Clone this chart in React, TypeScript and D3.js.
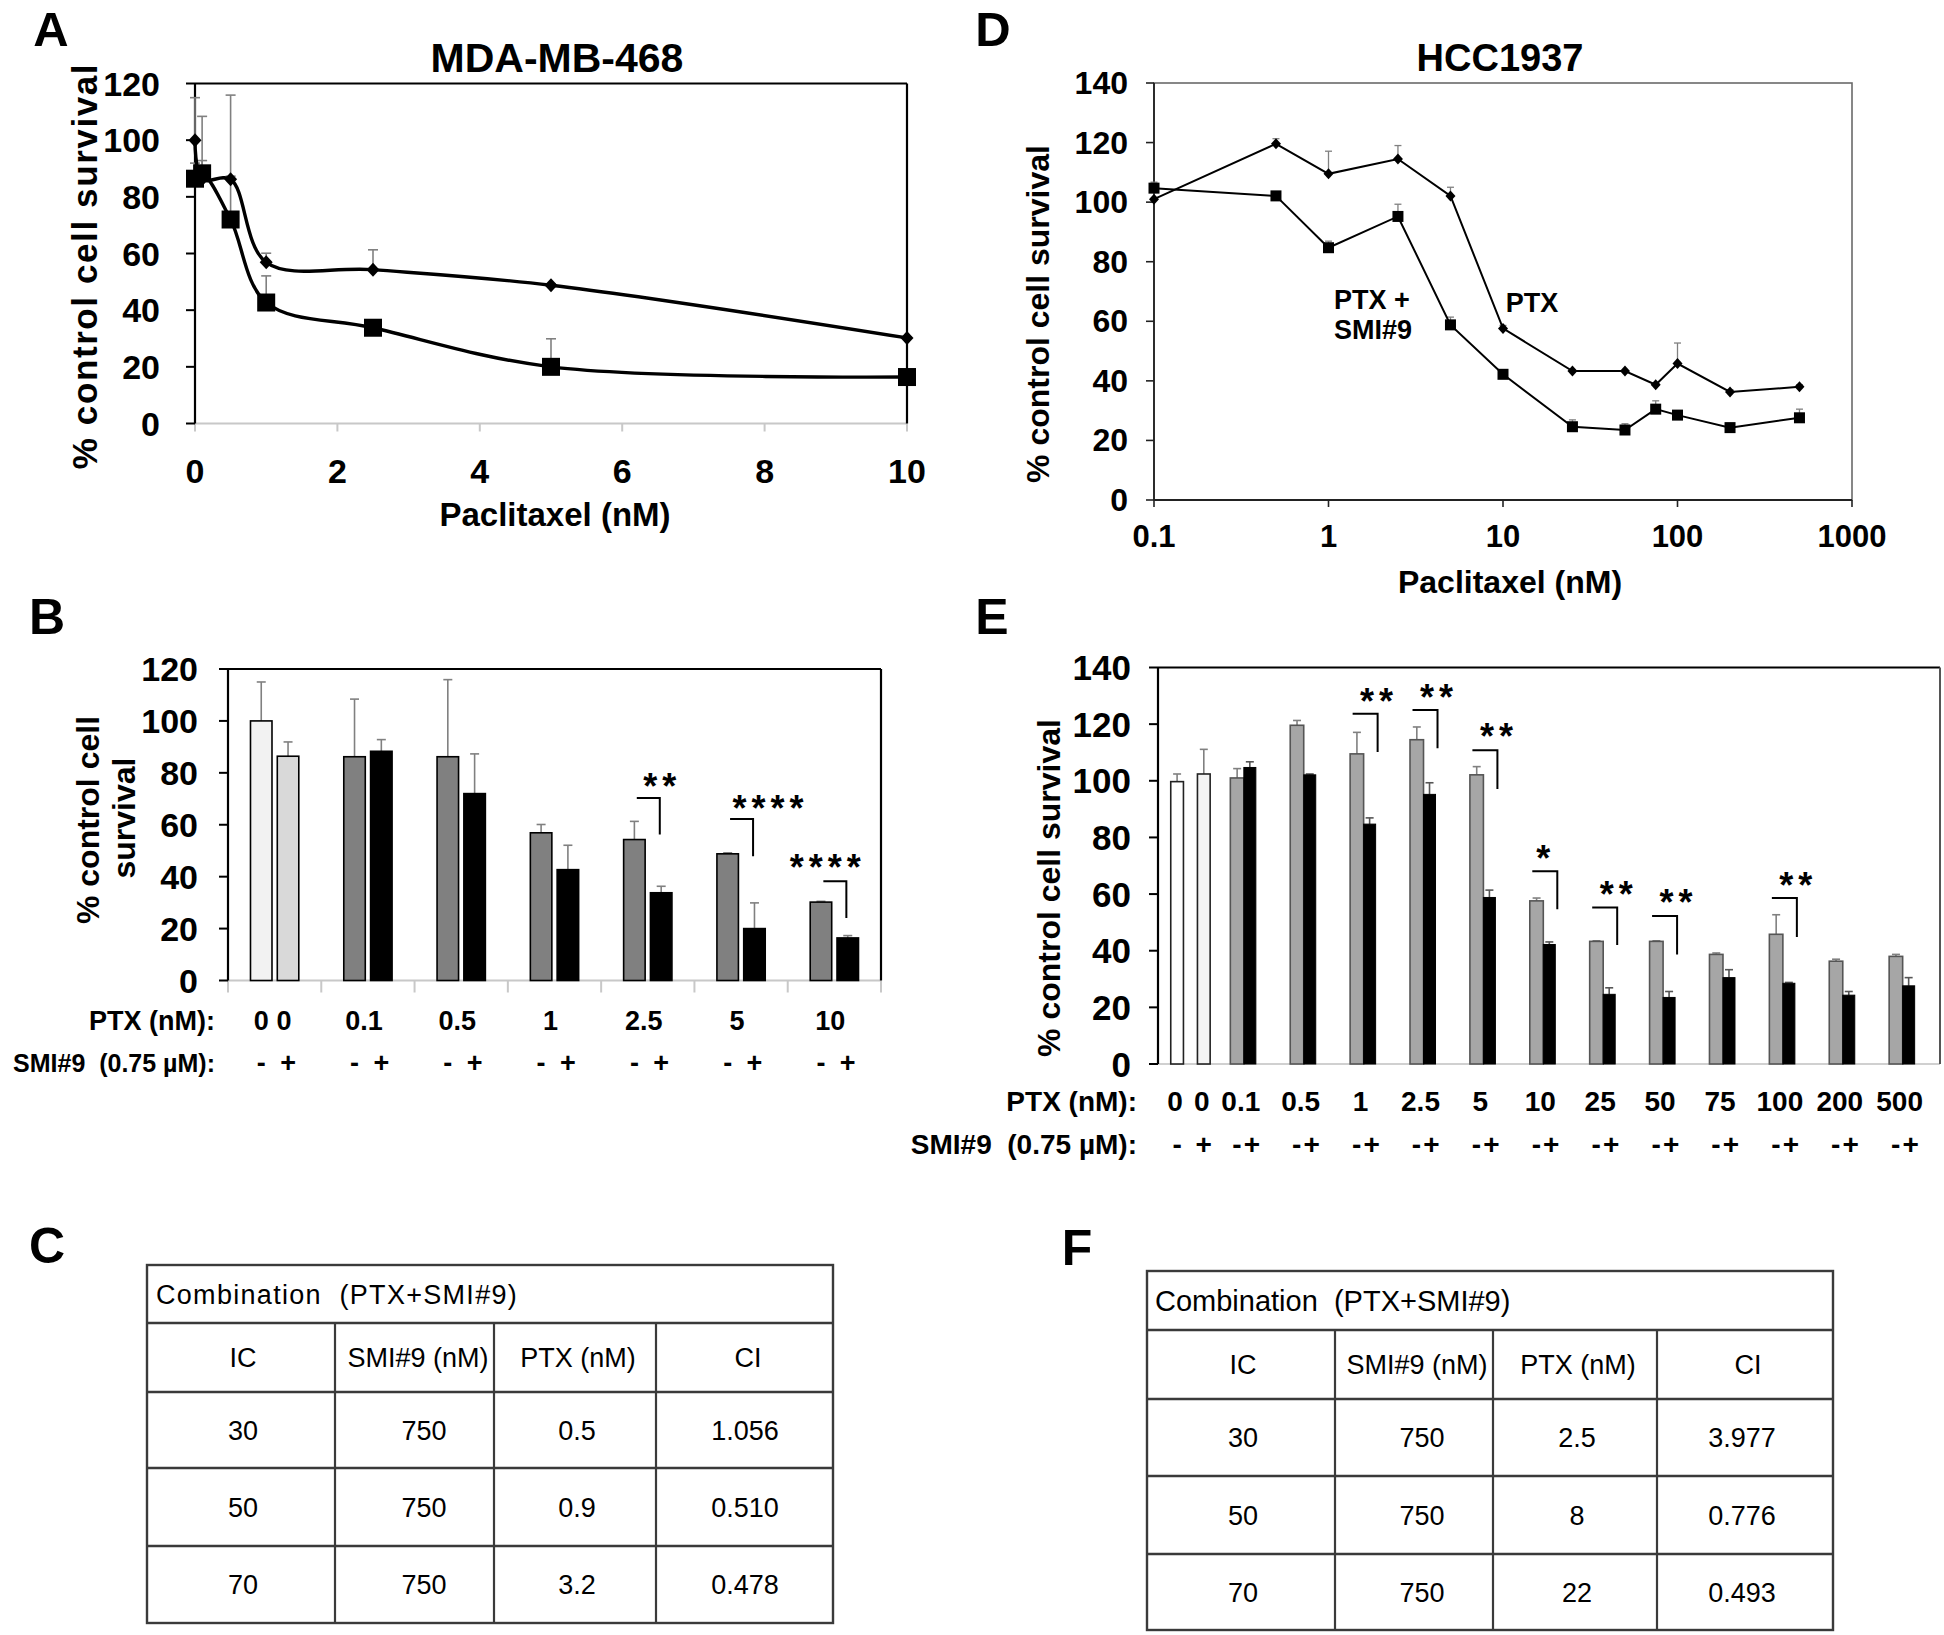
import React from 'react';
import * as d3 from 'd3';

const FONT = "'Liberation Sans', Arial, Helvetica, sans-serif";

// ---------- MDA-MB-468 (panels A, B) ----------
const MDA_DOSES = [0, 0.1, 0.5, 1, 2.5, 5, 10];
const MDA_PTX = [100, 86.2, 86.2, 56.9, 54.3, 48.8, 30.2];
const MDA_PTX_ERR = [15, 22.2, 29.7, 3.2, 7, 0.4, 0.3];
const MDA_COMBO = [86.4, 88.3, 72, 42.7, 33.8, 20, 16.4];
const MDA_COMBO_ERR = [5.5, 4.5, 15.3, 9.4, 2.5, 9.9, 0.9];
const A_YTICKS = [0, 20, 40, 60, 80, 100, 120];
const A_XTICKS = [0, 2, 4, 6, 8, 10];
const B_CATS = ['0', '0.1', '0.5', '1', '2.5', '5', '10'];
const B_SIG_CATS = ['2.5', '5', '10'];
const B_SIG_STARS = ['**', '****', '****'];
const B_SIG_TOP = [70.3, 62.2, 38.2];
const B_SIG_BOTTOM = [56.2, 47.9, 24.1];
const B_SIG_STAR_Y = [78, 69.7, 46.8];

// ---------- HCC1937 (panels D, E) ----------
const HCC_DOSES = [0.1, 0.5, 1, 2.5, 5, 10, 25, 50, 75, 100, 200, 500];
const HCC_PTX = [101, 119.6, 109.5, 114.5, 102.1, 57.6, 43.3, 43.3, 38.7, 45.8, 36.3, 38];
const HCC_PTX_ERR = [3.3, 1.7, 7.6, 4.5, 2.9, 1, 0.2, 0.2, 0.5, 6.9, 0.7, 0.7];
const HCC_COMBO = [104.7, 102.1, 84.7, 95.2, 58.8, 42.2, 24.6, 23.5, 30.5, 28.5, 24.3, 27.6];
const HCC_COMBO_ERR = [2, 0.3, 2.2, 4.1, 2.6, 0.9, 2.3, 2.1, 2.8, 0.3, 1.3, 2.9];
const HCC_CONTROL = [99.7, 102.4];
const HCC_CONTROL_ERR = [2.7, 8.7];
const D_YTICKS = [0, 20, 40, 60, 80, 100, 120, 140];
const D_XTICKS = [0.1, 1, 10, 100, 1000];
const E_CATS = ['0', '0.1', '0.5', '1', '2.5', '5', '10', '25', '50', '75', '100', '200', '500'];
const E_SIG_CATS = ['1', '2.5', '5', '10', '25', '50', '100'];
const E_SIG_STARS = ['**', '**', '**', '*', '**', '**', '**'];
const E_SIG_TOP = [123.7, 125, 110.8, 68.1, 55.3, 52.3, 58.6];
const E_SIG_BOTTOM = [110.2, 111.5, 97.1, 54.6, 42, 38.7, 44.8];
const E_SIG_STAR_Y = [131.1, 132.4, 118.7, 75.6, 62.7, 59.9, 66.1];

// ---------- Tables C, F ----------
const TABLE_TITLE = 'Combination  (PTX+SMI#9)';
const TABLE_HEAD = ['IC', 'SMI#9 (nM)', 'PTX (nM)', 'CI'];
const TABLE_IC = ['30', '50', '70'];
const C_SMI = ['750', '750', '750'];
const C_PTX = ['0.5', '0.9', '3.2'];
const C_CI = ['1.056', '0.510', '0.478'];
const F_SMI = ['750', '750', '750'];
const F_PTX = ['2.5', '8', '22'];
const F_CI = ['3.977', '0.776', '0.493'];

const PTX_ROW = 'PTX (nM):';
const SMI_ROW = 'SMI#9  (0.75 µM):';

function T(props: any) {
  const { x, y, size = 30, weight = 'bold', anchor = 'middle', children, ...rest } = props;
  return (
    <text x={x} y={y} fontSize={size} fontWeight={weight} textAnchor={anchor} fontFamily={FONT}
      fill="#000" style={{ whiteSpace: 'pre' }} {...rest}>{children}</text>
  );
}

function Diamond({ cx, cy, w, h }: any) {
  return <path d={`M${cx},${cy - h} L${cx + w},${cy} L${cx},${cy + h} L${cx - w},${cy} Z`} fill="#000" />;
}

function ErrUp({ x, y0, y1, cap, color = '#808080', sw = 1.6 }: any) {
  return (
    <g stroke={color} strokeWidth={sw}>
      <line x1={x} x2={x} y1={y0} y2={y1} />
      <line x1={x - cap / 2} x2={x + cap / 2} y1={y1} y2={y1} />
    </g>
  );
}

function PanelA() {
  const L = 195, R = 907, TOP = 83.5, BOT = 423.5;
  const x = d3.scaleLinear().domain([0, 10]).range([L, R]);
  const y = d3.scaleLinear().domain([0, 120]).range([BOT, TOP]);
  const curve = d3.line<number>().x((_, i) => x(MDA_DOSES[i])).y((d) => y(d)).curve(d3.curveCatmullRom.alpha(0.5));
  return (
    <g>
      <T x={557} y={72} size={41}>MDA-MB-468</T>
      <line x1={L} x2={R} y1={BOT} y2={BOT} stroke="#c8c8c8" strokeWidth={2} />
      {A_XTICKS.map((t) => (
        <line key={t} x1={x(t)} x2={x(t)} y1={BOT} y2={BOT + 8} stroke="#c8c8c8" strokeWidth={2} />
      ))}
      <line x1={L} x2={R} y1={TOP} y2={TOP} stroke="#000" strokeWidth={2.2} />
      <line x1={R} x2={R} y1={TOP} y2={BOT} stroke="#000" strokeWidth={2.2} />
      <line x1={L} x2={L} y1={TOP} y2={BOT} stroke="#000" strokeWidth={2.2} />
      {A_YTICKS.map((t) => (
        <g key={t}>
          <line x1={L - 9} x2={L} y1={y(t)} y2={y(t)} stroke="#000" strokeWidth={2} />
          <T x={160} y={y(t) + 12} size={34} anchor="end">{t}</T>
        </g>
      ))}
      {A_XTICKS.map((t) => (
        <T key={t} x={x(t)} y={483} size={34}>{t}</T>
      ))}
      <T x={555} y={526} size={33}>Paclitaxel (nM)</T>
      <T x={0} y={0} size={35} transform={`translate(97,266) rotate(-90)`} letterSpacing={1.6}>% control cell survival</T>
      {MDA_DOSES.map((d, i) => (
        <g key={'e' + i}>
          <ErrUp x={x(d)} y0={y(MDA_PTX[i])} y1={y(MDA_PTX[i] + MDA_PTX_ERR[i])} cap={10} />
          <ErrUp x={x(d)} y0={y(MDA_COMBO[i])} y1={y(MDA_COMBO[i] + MDA_COMBO_ERR[i])} cap={10} />
        </g>
      ))}
      <path d={curve(MDA_PTX) || ''} fill="none" stroke="#000" strokeWidth={3.4} />
      <path d={curve(MDA_COMBO) || ''} fill="none" stroke="#000" strokeWidth={3.4} />
      {MDA_DOSES.map((d, i) => (
        <Diamond key={'d' + i} cx={x(d)} cy={y(MDA_PTX[i])} w={6.5} h={7} />
      ))}
      {MDA_DOSES.map((d, i) => (
        <rect key={'s' + i} x={x(d) - 9} y={y(MDA_COMBO[i]) - 9} width={18} height={18} fill="#000" />
      ))}
    </g>
  );
}

function PanelD() {
  const L = 1154, R = 1852, TOP = 83, BOT = 500;
  const x = d3.scaleLog().domain([0.1, 1000]).range([L, R]);
  const y = d3.scaleLinear().domain([0, 140]).range([BOT, TOP]);
  const line = d3.line<number>().x((_, i) => x(HCC_DOSES[i])).y((d) => y(d));
  return (
    <g>
      <T x={1500} y={71} size={38}>HCC1937</T>
      <rect x={L} y={TOP} width={R - L} height={BOT - TOP} fill="none" stroke="#6a6a6a" strokeWidth={1.6} />
      <line x1={L} x2={L} y1={TOP} y2={BOT} stroke="#222" strokeWidth={1.8} />
      <line x1={L} x2={R} y1={BOT} y2={BOT} stroke="#222" strokeWidth={1.8} />
      {D_YTICKS.map((t) => (
        <g key={t}>
          <line x1={L - 8} x2={L} y1={y(t)} y2={y(t)} stroke="#222" strokeWidth={1.6} />
          <T x={1128} y={y(t) + 11} size={32} anchor="end">{t}</T>
        </g>
      ))}
      {D_XTICKS.map((t) => (
        <g key={t}>
          <line x1={x(t)} x2={x(t)} y1={BOT} y2={BOT + 7} stroke="#222" strokeWidth={1.6} />
          <T x={x(t)} y={547} size={31}>{String(t)}</T>
        </g>
      ))}
      <T x={1510} y={593} size={32}>Paclitaxel (nM)</T>
      <T x={0} y={0} size={32} transform={`translate(1049,314) rotate(-90)`}>% control cell survival</T>
      {HCC_DOSES.map((d, i) => (
        <g key={'e' + i}>
          <ErrUp x={x(d)} y0={y(HCC_PTX[i])} y1={y(HCC_PTX[i] + HCC_PTX_ERR[i])} cap={7} sw={1.3} />
          <ErrUp x={x(d)} y0={y(HCC_COMBO[i])} y1={y(HCC_COMBO[i] + HCC_COMBO_ERR[i])} cap={7} sw={1.3} />
        </g>
      ))}
      <path d={line(HCC_PTX) || ''} fill="none" stroke="#000" strokeWidth={2} />
      <path d={line(HCC_COMBO) || ''} fill="none" stroke="#000" strokeWidth={2} />
      {HCC_DOSES.map((d, i) => (
        <Diamond key={'d' + i} cx={x(d)} cy={y(HCC_PTX[i])} w={5} h={5.5} />
      ))}
      {HCC_DOSES.map((d, i) => (
        <rect key={'s' + i} x={x(d) - 5.5} y={y(HCC_COMBO[i]) - 5.5} width={11} height={11} fill="#000" />
      ))}
      <T x={1372} y={309} size={27}>PTX +</T>
      <T x={1373} y={339} size={27}>SMI#9</T>
      <T x={1532} y={312} size={27}>PTX</T>
    </g>
  );
}

function PanelB() {
  const L = 228, R = 881, TOP = 669, BOT = 980.5;
  const x = d3.scaleBand().domain(B_CATS).range([L, R]);
  const y = d3.scaleLinear().domain([0, 120]).range([BOT, TOP]);
  const c = (k: string) => (x(k) as number) + x.bandwidth() / 2;
  const bw = 21.5, off = 13.4;
  const boundaries = B_CATS.map((k) => x(k) as number).concat([R]);
  return (
    <g>
      <line x1={L} x2={R} y1={BOT} y2={BOT} stroke="#c8c8c8" strokeWidth={2} />
      {boundaries.map((b, i) => (
        <line key={i} x1={b} x2={b} y1={BOT} y2={BOT + 12} stroke="#c8c8c8" strokeWidth={2} />
      ))}
      <line x1={L} x2={R} y1={TOP} y2={TOP} stroke="#000" strokeWidth={2.2} />
      <line x1={R} x2={R} y1={TOP} y2={BOT} stroke="#000" strokeWidth={2.2} />
      <line x1={L} x2={L} y1={TOP} y2={BOT} stroke="#000" strokeWidth={2.2} />
      {A_YTICKS.map((t) => (
        <g key={t}>
          <line x1={L - 9} x2={L} y1={y(t)} y2={y(t)} stroke="#000" strokeWidth={2} />
          <T x={198} y={y(t) + 12} size={34} anchor="end">{t}</T>
        </g>
      ))}
      <T x={0} y={0} size={32} transform={`translate(99,820) rotate(-90)`}>% control cell</T>
      <T x={0} y={0} size={32} transform={`translate(135,818) rotate(-90)`}>survival</T>
      {B_CATS.map((k, i) => {
        const cx = c(k);
        const gFill = i === 0 ? '#f2f2f2' : '#808080';
        const bFill = i === 0 ? '#d9d9d9' : '#000';
        return (
          <g key={k}>
            <ErrUp x={cx - off} y0={y(MDA_PTX[i])} y1={y(MDA_PTX[i] + MDA_PTX_ERR[i])} cap={9} />
            <ErrUp x={cx + off} y0={y(MDA_COMBO[i])} y1={y(MDA_COMBO[i] + MDA_COMBO_ERR[i])} cap={9} />
            <rect x={cx - off - bw / 2} y={y(MDA_PTX[i])} width={bw} height={BOT - y(MDA_PTX[i])} fill={gFill} stroke="#000" strokeWidth={1.6} />
            <rect x={cx + off - bw / 2} y={y(MDA_COMBO[i])} width={bw} height={BOT - y(MDA_COMBO[i])} fill={bFill} stroke="#000" strokeWidth={1.6} />
            {i === 0 ? (
              <>
                <T x={cx - off} y={1030} size={27}>{k}</T>
                <T x={cx + off - 4} y={1030} size={27}>{k}</T>
              </>
            ) : (
              <T x={cx - 4} y={1030} size={27}>{k}</T>
            )}
            <T x={cx - off} y={1072} size={27}>-</T>
            <T x={cx + off} y={1072} size={27}>+</T>
          </g>
        );
      })}
      <T x={215} y={1030} size={27} anchor="end">{PTX_ROW}</T>
      <T x={215} y={1072} size={25} anchor="end">{SMI_ROW}</T>
      {B_SIG_CATS.map((k, i) => {
        const cx = c(k);
        const starDx = [12, 27, -9][i];
        return (
          <g key={'s' + k}>
            <path d={`M${cx - 11},${y(B_SIG_TOP[i])} H${cx + 12} V${y(B_SIG_BOTTOM[i])}`} fill="none" stroke="#000" strokeWidth={2} />
            <T x={cx + starDx + 2.5} y={y(B_SIG_STAR_Y[i]) + 21} size={36} letterSpacing={5}>{B_SIG_STARS[i]}</T>
          </g>
        );
      })}
    </g>
  );
}

function PanelE() {
  const L = 1158, R = 1940, TOP = 667.5, BOT = 1064;
  const x = d3.scaleBand().domain(E_CATS).range([1154, 1932.6]);
  const y = d3.scaleLinear().domain([0, 140]).range([BOT, TOP]);
  const c = (k: string) => (x(k) as number) + x.bandwidth() / 2;
  const ctrlShift = 6.5, ctrlOff = 13.35, ctrlW = 12.7;
  const ctrlX = [c('0') + ctrlShift - ctrlOff, c('0') + ctrlShift + ctrlOff];
  return (
    <g>
      <line x1={L} x2={R} y1={BOT} y2={BOT} stroke="#d0d0d0" strokeWidth={2} />
      <line x1={L} x2={R} y1={TOP} y2={TOP} stroke="#000" strokeWidth={2.2} />
      <line x1={R} x2={R} y1={TOP} y2={BOT} stroke="#555" strokeWidth={2} />
      <line x1={L} x2={L} y1={TOP} y2={BOT} stroke="#000" strokeWidth={2.2} />
      {D_YTICKS.map((t) => (
        <g key={t}>
          <line x1={L - 9} x2={L} y1={y(t)} y2={y(t)} stroke="#000" strokeWidth={2} />
          <T x={1131} y={y(t) + 12.5} size={35} anchor="end">{t}</T>
        </g>
      ))}
      <T x={0} y={0} size={32} transform={`translate(1060,888) rotate(-90)`}>% control cell survival</T>
      {HCC_CONTROL.map((v, i) => (
        <g key={'c' + i}>
          <ErrUp x={ctrlX[i]} y0={y(v)} y1={y(v + HCC_CONTROL_ERR[i])} cap={8} />
          <rect x={ctrlX[i] - ctrlW / 2} y={y(v)} width={ctrlW} height={BOT - y(v)} fill={i === 0 ? '#fff' : '#f4f4f4'} stroke="#222" strokeWidth={1.6} />
          <T x={ctrlX[i] - 2} y={1111} size={28}>0</T>
          <T x={ctrlX[i]} y={1154} size={28}>{i === 0 ? '-' : '+'}</T>
        </g>
      ))}
      {HCC_DOSES.map((d, i) => {
        const k = E_CATS[i + 1];
        const cx = c(k);
        return (
          <g key={k}>
            <ErrUp x={cx - 6.7} y0={y(HCC_PTX[i])} y1={y(HCC_PTX[i] + HCC_PTX_ERR[i])} cap={8} />
            <ErrUp x={cx + 6} y0={y(HCC_COMBO[i])} y1={y(HCC_COMBO[i] + HCC_COMBO_ERR[i])} cap={8} color="#555" />
            <rect x={cx - 13.5} y={y(HCC_PTX[i])} width={13.5} height={BOT - y(HCC_PTX[i])} fill="#a6a6a6" stroke="#555" strokeWidth={1.6} />
            <rect x={cx} y={y(HCC_COMBO[i])} width={12} height={BOT - y(HCC_COMBO[i])} fill="#000" stroke="#000" strokeWidth={1} />
            <T x={cx - 3} y={1111} size={28}>{k}</T>
            <T x={cx - 7} y={1154} size={28}>-</T>
            <T x={cx + 8} y={1154} size={28}>+</T>
          </g>
        );
      })}
      <T x={1137} y={1111} size={28} anchor="end">{PTX_ROW}</T>
      <T x={1137} y={1154} size={28} anchor="end">{SMI_ROW}</T>
      {E_SIG_CATS.map((k, i) => {
        const cx = c(k);
        const starDx = E_SIG_STARS[i].length === 1 ? 0 : 13;
        return (
          <g key={'s' + k}>
            <path d={`M${cx - 11},${y(E_SIG_TOP[i])} H${cx + 14} V${y(E_SIG_BOTTOM[i])}`} fill="none" stroke="#000" strokeWidth={2} />
            <T x={cx + starDx + 2.5} y={y(E_SIG_STAR_Y[i]) + 21} size={36} letterSpacing={5}>{E_SIG_STARS[i]}</T>
          </g>
        );
      })}
    </g>
  );
}

function Table({ left, right, rows, cols, titleX, titleSize, titleSpacing, headX, valX, smi, ptx, ci }: any) {
  const [top, r1, r2, r3, r4, bottom] = rows;
  const rowCenters = [(r2 + r3) / 2, (r3 + r4) / 2, (r4 + bottom) / 2];
  const fs = 27;
  const stroke = '#3a3a3a';
  return (
    <g>
      <rect x={left} y={top} width={right - left} height={bottom - top} fill="none" stroke={stroke} strokeWidth={2.4} />
      {[r1, r2, r3, r4].map((r, i) => (
        <line key={i} x1={left} x2={right} y1={r} y2={r} stroke={stroke} strokeWidth={2.6} />
      ))}
      {cols.map((cx: number, i: number) => (
        <line key={i} x1={cx} x2={cx} y1={r1} y2={bottom} stroke={stroke} strokeWidth={2.2} />
      ))}
      <T x={titleX} y={(top + r1) / 2 + titleSize * 0.36} size={titleSize} weight="normal" anchor="start" letterSpacing={titleSpacing}>{TABLE_TITLE}</T>
      {TABLE_HEAD.map((h, i) => (
        <T key={h} x={headX[i]} y={(r1 + r2) / 2 + fs * 0.36} size={fs} weight="normal">{h}</T>
      ))}
      {TABLE_IC.map((ic, j) => (
        <g key={ic}>
          <T x={valX[0]} y={rowCenters[j] + fs * 0.36} size={fs} weight="normal">{ic}</T>
          <T x={valX[1]} y={rowCenters[j] + fs * 0.36} size={fs} weight="normal">{smi[j]}</T>
          <T x={valX[2]} y={rowCenters[j] + fs * 0.36} size={fs} weight="normal">{ptx[j]}</T>
          <T x={valX[3]} y={rowCenters[j] + fs * 0.36} size={fs} weight="normal">{ci[j]}</T>
        </g>
      ))}
    </g>
  );
}

export default function App() {
  return (
    <svg width={1944} height={1635} viewBox="0 0 1944 1635" style={{ position: 'absolute', left: 0, top: 0, background: '#fff' }}>
      <rect x={0} y={0} width={1944} height={1635} fill="#fff" />
      <T x={51} y={46} size={49}>A</T>
      <T x={993} y={46} size={49}>D</T>
      <T x={47} y={634} size={50}>B</T>
      <T x={992} y={634} size={50}>E</T>
      <T x={47} y={1263} size={50}>C</T>
      <T x={1077} y={1265} size={50}>F</T>
      <PanelA />
      <PanelD />
      <PanelB />
      <PanelE />
      <Table left={147} right={833} rows={[1265, 1323, 1392, 1468, 1546, 1623]} cols={[335, 494, 656]}
        titleX={156} titleSize={27} titleSpacing={1.3}
        headX={[243, 418, 578, 748]} valX={[243, 424, 577, 745]} smi={C_SMI} ptx={C_PTX} ci={C_CI} />
      <Table left={1147} right={1833} rows={[1271, 1330, 1399, 1476, 1554, 1630]} cols={[1335, 1493, 1657]}
        titleX={1155} titleSize={29} titleSpacing={0}
        headX={[1243, 1417, 1578, 1748]} valX={[1243, 1422, 1577, 1742]} smi={F_SMI} ptx={F_PTX} ci={F_CI} />
    </svg>
  );
}
